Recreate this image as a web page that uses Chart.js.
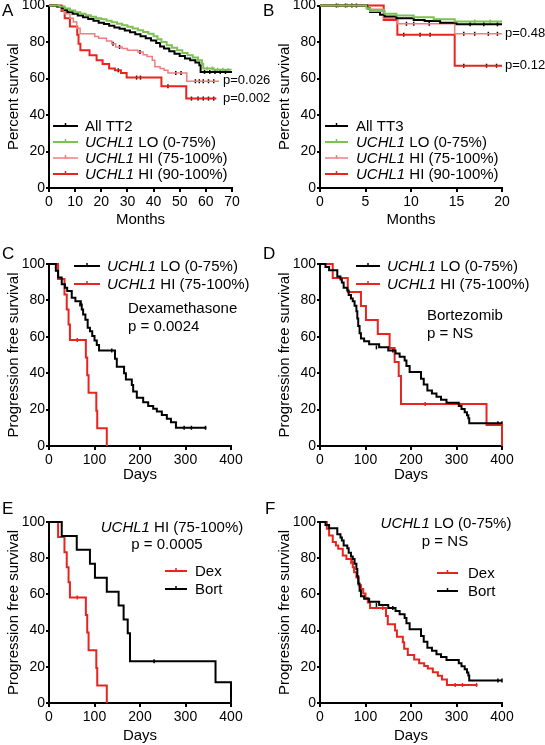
<!DOCTYPE html>
<html>
<head>
<meta charset="utf-8">
<script src="https://cdn.jsdelivr.net/npm/chart.js@4/dist/chart.umd.min.js"></script>
<style>
  html, body { margin:0; padding:0; background:#fff; }
  #wrap { position:relative; width:545px; height:745px; overflow:hidden; }
  canvas { position:absolute; left:0; top:0; }
</style>
</head>
<body>
<div id="wrap">
  <canvas id="cA" width="545" height="745"></canvas>
  <canvas id="cB" width="545" height="745"></canvas>
  <canvas id="cC" width="545" height="745"></canvas>
  <canvas id="cD" width="545" height="745"></canvas>
  <canvas id="cE" width="545" height="745"></canvas>
  <canvas id="cF" width="545" height="745"></canvas>
</div>
<script>
// ---------------- DATA (Kaplan-Meier steps: [time, survival %]) ----------------
// Panel A: TT2, months
const tt2All  = [[0,100],[3,99.5],[5,98.5],[6,97.5],[7,96.5],[9,95.5],[11,94.5],[13,93.6],[15,92.6],[17,91.6],[19,90.6],[21,89.8],[23,88.9],[25,88],[27,87.2],[29,86.3],[31,85.3],[33,84.3],[35,83.2],[37,82],[39,80.8],[41,79.5],[42.5,77.5],[44,76.4],[46,75],[48,73.6],[50,72.3],[52,71],[54,70],[56,68.8],[57.5,67.3],[58,63.6],[70,63.6]];
const tt2Lo   = [[0,100],[4,99.5],[6,98.3],[8,97.2],[10,96.3],[12,95.5],[14,94.7],[16,93.8],[18,93],[20,92.4],[22,91.6],[24,90.8],[26,90],[28,89.2],[30,88.3],[32,87.4],[34,86.5],[36,85.5],[38,84.5],[40,83.2],[41.5,81.5],[43,80],[45,78.2],[47,76.8],[49,75.5],[51,74],[53,72.7],[55,71.5],[57,70],[58.5,68],[59,65.5],[63,64.8],[69.5,64.5]];
const tt2Hi75 = [[0,100],[3.5,99],[4.5,98],[5.5,97],[6,95.5],[8,93],[9.3,91],[10.6,87.6],[11.9,84.5],[17.5,83],[19,82],[22,80.5],[24,79],[25.5,77.3],[28,76.4],[30,75.5],[34,74.5],[36,73],[37.5,72],[39.5,70],[40.5,66.4],[42.5,65.5],[44,64.5],[45.5,63],[52.7,58.5],[65,58.5]];
const tt2Hi90 = [[0,100],[4.8,97],[6,93],[8,88.5],[10.8,84],[11.3,79],[12,75.5],[15.5,72.7],[18.2,70],[20.5,68],[23,65.5],[25.2,64.5],[27.5,63],[29.7,60.5],[43,55.8],[52.5,49],[64,49]];
const tt2AllCens  = [[59.5,63.6],[61.5,63.6],[63.5,63.6],[65.5,63.6],[67.5,63.6]];
const tt2LoCens   = [[60.5,65.5],[62.5,65.5],[64.5,64.8],[66.5,64.8],[68.5,64.5]];
const tt2Hi75Cens = [[24.5,79],[27,77.3],[34.8,74.5],[48.5,63],[50.5,63],[56,58.5],[57.5,58.5],[59,58.5],[61,58.5],[63,58.5]];
const tt2Hi90Cens = [[26.5,64.5],[33.5,60.5],[35,60.5],[45.5,55.8],[54.5,49],[57,49],[59,49],[61,49],[63,49]];

// Panel B: TT3, months
const tt3All  = [[0,100],[5.2,98.5],[5.5,96.5],[6.6,95],[7.1,94],[8.4,93],[10.3,92],[11.5,91.5],[13.2,90.5],[15,89.7],[20,89.7]];
const tt3Lo   = [[0,100],[5.1,98.5],[5.5,97],[7.1,95.5],[8.4,94.5],[10.3,93.5],[12.5,92.5],[14.8,91.3],[20,91.3]];
const tt3Hi75 = [[0,100],[5.3,98],[7,93],[8.5,90],[14.8,84.5],[20,84.5]];
const tt3Hi90 = [[0,100],[7,92],[8.5,84],[14.8,67],[20,67]];
const tt3AllCens  = [[16.5,89.7],[18,89.7],[19.5,89.7]];
const tt3LoCens   = [[2,100],[3,100],[17,91.3],[18.7,91.3]];
const tt3Hi75Cens = [[2.8,100],[3.5,100],[9.5,90],[10.3,90],[12,90],[15.8,84.5],[17,84.5],[18.5,84.5],[19.5,84.5]];
const tt3Hi90Cens = [[1.8,100],[4,100],[9.2,84],[11,84],[12.1,84],[15.8,67],[18.3,67],[19.4,67]];

// Panels C-F: progression free survival, days
const loDex  = [[0,100],[15,96.3],[20,92.6],[28,88.9],[35,87],[40,85.2],[50,81.5],[58,79.6],[70,77.8],[72,75],[75,72.2],[80,69.4],[85,65],[90,63],[95,60.5],[100,58],[105,55.5],[110,52.5],[145,48],[149,43.5],[165,40],[169,36.6],[182,33.5],[185,30],[193,26.5],[207,24],[218,22],[229,20.5],[237,19],[248,17],[259,15],[268,13],[279,10],[346,10]];
const loDexCens = [[68,77.8],[138,52.5],[297,10],[313,10],[344,10]];
const hiDex  = [[0,100],[20,91.7],[34,83.3],[39,75],[43,66.7],[46,58.3],[81,48.6],[84,38.9],[87,29.2],[104,19.4],[106,9.7],[127,0]];
const hiDexCens = [[62,58.3]];
const loBort = [[0,100],[12,98.3],[20,96.6],[38,93.2],[45,91.5],[48,89.8],[52,87],[60,85.5],[63,83],[68,81],[72,79.5],[76,77],[80,74],[82,70],[84,66],[87,62],[90,59],[97,57.6],[108,55.9],[130,54.2],[150,52.5],[166,50.8],[175,49],[186,47],[190,44],[197,40.7],[222,37],[228,33.8],[236,30.5],[246,28.8],[256,27],[266,25.4],[278,23.7],[305,22],[311,20.3],[318,18.6],[323,16.9],[326,15.2],[328,12.5],[400,12.5]];
const loBortCens = [[124,54.2],[160,52.5],[391,12.5],[400,12.5]];
const hiBort = [[0,100],[28,92.3],[61,84.6],[90,76.9],[101,69.2],[127,61.5],[153,53.8],[164,46.2],[173,38.5],[178,23.1],[366,11.5],[400,0]];
const hiBortCens = [[231,23.1]];

// Tick settings
const yTicks = [0,20,40,60,80,100];
const monthsTicksA = [0,10,20,30,40,50,60,70];
const monthsTicksB = [0,5,10,15,20];
const dayTicks = [0,100,200,300,400];

// ---------------- STYLE ----------------
const FAMILY = '"Liberation Sans", Arial, Helvetica, sans-serif';
Chart.defaults.font.family = FAMILY;
Chart.defaults.color = '#000';
const BLACK = '#000000', GREEN = '#7cc152', LRED = '#ef7f7f', RED = '#e9241e';

function pts(arr){ return arr.map(([x,y]) => ({x, y})); }
function curve(arr, color, w){
  return { type:'line', data: pts(arr), borderColor: color, backgroundColor: color, borderWidth: w,
           stepped: true, pointRadius: 0, fill: false, tension: 0, clip: 4 };
}
function cens(arr, color){
  return { type:'line', data: pts(arr), showLine: false, borderColor: color, backgroundColor: color,
           pointStyle: 'line', pointRotation: 90, pointRadius: 2, pointBorderWidth: 1.5, clip: 6 };
}

function richWidth(ctx, parts, size){
  let w = 0;
  for (const p of parts){ ctx.font = (p.i ? 'italic ' : '') + size + 'px ' + FAMILY; w += ctx.measureText(p.t).width; }
  return w;
}
function drawRich(ctx, parts, x, y, size, align){
  let cx = x;
  if (align === 'center') cx = x - richWidth(ctx, parts, size) / 2;
  ctx.textBaseline = 'middle'; ctx.textAlign = 'left'; ctx.fillStyle = '#000';
  for (const p of parts){
    ctx.font = (p.i ? 'italic ' : '') + size + 'px ' + FAMILY;
    ctx.fillText(p.t, cx, y);
    cx += ctx.measureText(p.t).width;
  }
}

const kmDecor = {
  id: 'kmDecor',
  afterDraw(chart, args, o){
    const ctx = chart.ctx;
    ctx.save();
    if (o.letter){
      ctx.font = '17px ' + FAMILY; ctx.fillStyle = '#000'; ctx.textBaseline = 'middle'; ctx.textAlign = 'left';
      ctx.fillText(o.letter.t, o.letter.x, o.letter.y);
    }
    for (const it of (o.legend || [])){
      ctx.strokeStyle = it.color; ctx.lineWidth = it.w;
      ctx.beginPath(); ctx.moveTo(it.x1, it.y); ctx.lineTo(it.x2, it.y); ctx.stroke();
      const mx = (it.x1 + it.x2) / 2;
      ctx.lineWidth = 1.5;
      ctx.beginPath(); ctx.moveTo(mx, it.y - 3); ctx.lineTo(mx, it.y + 1); ctx.stroke();
      drawRich(ctx, it.parts, it.tx, it.y + 1, 15, 'left');
    }
    for (const t of (o.texts || [])){
      drawRich(ctx, t.parts, t.x, t.y, t.size || 15, t.align || 'left');
    }
    ctx.restore();
  }
};

function makePanel(id, c){
  const W = 545, H = 745;
  new Chart(document.getElementById(id), {
    type: 'line',
    data: { datasets: c.datasets },
    plugins: [kmDecor],
    options: {
      responsive: false, animation: false, devicePixelRatio: 1,
      layout: { padding: { left: c.padL, right: W - c.right, top: c.top, bottom: H - c.regionBottom } },
      plugins: { legend: { display: false }, tooltip: { enabled: false }, kmDecor: c.decor },
      scales: {
        x: {
          type: 'linear', min: 0, max: c.xTicks[c.xTicks.length - 1],
          afterBuildTicks(s){ s.ticks = c.xTicks.map(v => ({ value: v })); },
          afterFit(s){ s.height = c.regionBottom - c.bottom; s.paddingLeft = 0; s.paddingRight = 0; },
          ticks: { font: { size: 14 }, color: '#000', padding: 2, maxRotation: 0, autoSkip: false },
          grid: { drawOnChartArea: false, drawTicks: true, tickLength: 4, color: '#000', lineWidth: 2 },
          border: { display: true, color: '#000', width: 2 },
          title: { display: true, text: c.xTitle, font: { size: 15 }, color: '#000', padding: { top: 0, bottom: c.xTitlePad } }
        },
        y: {
          type: 'linear', min: 0, max: 100,
          afterBuildTicks(s){ s.ticks = yTicks.map(v => ({ value: v })); },
          afterFit(s){ s.width = c.yW; s.paddingTop = 0; s.paddingBottom = 0; },
          ticks: { font: { size: 14 }, color: '#000', padding: 1, autoSkip: false },
          grid: { drawOnChartArea: false, drawTicks: true, tickLength: 3, color: '#000', lineWidth: 2 },
          border: { display: true, color: '#000', width: 2 },
          title: { display: true, text: c.yTitle, font: { size: 15 }, color: '#000', padding: { top: c.yTitlePad, bottom: 0 } }
        }
      }
    }
  });
}

const U = { t: 'UCHL1', i: true };
const legRows4 = (x1, x2, tx, labels) => [
  { color: BLACK, w: 2,   x1, x2, y: 126, tx, parts: [{ t: labels[0] }] },
  { color: GREEN, w: 2,   x1, x2, y: 142, tx, parts: [U, { t: ' LO (0-75%)' }] },
  { color: LRED,  w: 1.5, x1, x2, y: 158, tx, parts: [U, { t: ' HI (75-100%)' }] },
  { color: RED,   w: 2,   x1, x2, y: 174, tx, parts: [U, { t: ' HI (90-100%)' }] }
];

// Panel A
makePanel('cA', {
  padL: 0, yW: 49, right: 232, top: 5, bottom: 188, regionBottom: 245,
  xTicks: monthsTicksA, xTitle: 'Months', yTitle: 'Percent survival', xTitlePad: 16, yTitlePad: 5,
  datasets: [
    curve(tt2Lo, GREEN, 2), curve(tt2All, BLACK, 2), curve(tt2Hi75, LRED, 1.5), curve(tt2Hi90, RED, 2),
    cens(tt2LoCens, GREEN), cens(tt2AllCens, BLACK), cens(tt2Hi75Cens, BLACK), cens(tt2Hi90Cens, BLACK)
  ],
  decor: {
    letter: { t: 'A', x: 2, y: 11 },
    legend: legRows4(53, 78, 85, ['All TT2']),
    texts: [ { parts: [{ t: 'p=0.026' }], x: 223, y: 80, size: 13 }, { parts: [{ t: 'p=0.002' }], x: 223, y: 98, size: 13 } ]
  }
});

// Panel B
makePanel('cB', {
  padL: 270, yW: 50, right: 502, top: 5, bottom: 188, regionBottom: 245,
  xTicks: monthsTicksB, xTitle: 'Months', yTitle: 'Percent survival', xTitlePad: 16, yTitlePad: 6,
  datasets: [
    curve(tt3Lo, GREEN, 2), curve(tt3All, BLACK, 2), curve(tt3Hi75, LRED, 1.5), curve(tt3Hi90, RED, 2),
    cens(tt3LoCens, GREEN), cens(tt3AllCens, BLACK), cens(tt3Hi75Cens, BLACK), cens(tt3Hi90Cens, BLACK)
  ],
  decor: {
    letter: { t: 'B', x: 263, y: 11 },
    legend: legRows4(325, 348, 356, ['All TT3']),
    texts: [ { parts: [{ t: 'p=0.48' }], x: 505, y: 33, size: 13 }, { parts: [{ t: 'p=0.12' }], x: 505, y: 65, size: 13 } ]
  }
});

// Panel C
makePanel('cC', {
  padL: 0, yW: 49, right: 231, top: 264, bottom: 446, regionBottom: 490,
  xTicks: dayTicks, xTitle: 'Days', yTitle: 'Progression free survival', xTitlePad: 6, yTitlePad: 5,
  datasets: [ curve(loDex, BLACK, 2), curve(hiDex, RED, 2), cens(loDexCens, BLACK), cens(hiDexCens, RED) ],
  decor: {
    letter: { t: 'C', x: 2, y: 254 },
    legend: [
      { color: BLACK, w: 2, x1: 74, x2: 100, y: 266, tx: 107, parts: [U, { t: ' LO (0-75%)' }] },
      { color: RED,   w: 2, x1: 74, x2: 100, y: 284, tx: 107, parts: [U, { t: ' HI (75-100%)' }] }
    ],
    texts: [ { parts: [{ t: 'Dexamethasone' }], x: 128, y: 309 }, { parts: [{ t: 'p = 0.0024' }], x: 128, y: 327 } ]
  }
});

// Panel D
makePanel('cD', {
  padL: 270, yW: 50, right: 502, top: 264, bottom: 446, regionBottom: 490,
  xTicks: dayTicks, xTitle: 'Days', yTitle: 'Progression free survival', xTitlePad: 6, yTitlePad: 6,
  datasets: [ curve(loBort, BLACK, 2), curve(hiBort, RED, 2), cens(loBortCens, BLACK), cens(hiBortCens, RED) ],
  decor: {
    letter: { t: 'D', x: 263, y: 254 },
    legend: [
      { color: BLACK, w: 2, x1: 356, x2: 380, y: 266, tx: 387, parts: [U, { t: ' LO (0-75%)' }] },
      { color: RED,   w: 2, x1: 356, x2: 380, y: 284, tx: 387, parts: [U, { t: ' HI (75-100%)' }] }
    ],
    texts: [ { parts: [{ t: 'Bortezomib' }], x: 427, y: 316 }, { parts: [{ t: 'p = NS' }], x: 427, y: 334 } ]
  }
});

// Panel E
makePanel('cE', {
  padL: 0, yW: 49, right: 231, top: 522, bottom: 703, regionBottom: 745,
  xTicks: dayTicks, xTitle: 'Days', yTitle: 'Progression free survival', xTitlePad: 0, yTitlePad: 5,
  datasets: [ curve(hiBort, BLACK, 2), curve(hiDex, RED, 2), cens(hiBortCens, BLACK), cens(hiDexCens, RED) ],
  decor: {
    letter: { t: 'E', x: 2, y: 509 },
    legend: [
      { color: RED,   w: 2, x1: 165, x2: 187, y: 571, tx: 195, parts: [{ t: 'Dex' }] },
      { color: BLACK, w: 2, x1: 165, x2: 187, y: 589, tx: 195, parts: [{ t: 'Bort' }] }
    ],
    texts: [ { parts: [U, { t: ' HI (75-100%)' }], x: 172, y: 528, align: 'center' },
             { parts: [{ t: 'p = 0.0005' }], x: 167, y: 545, align: 'center' } ]
  }
});

// Panel F
makePanel('cF', {
  padL: 270, yW: 50, right: 502, top: 522, bottom: 703, regionBottom: 745,
  xTicks: dayTicks, xTitle: 'Days', yTitle: 'Progression free survival', xTitlePad: 0, yTitlePad: 6,
  datasets: [ curve(loBort, BLACK, 2), curve(loDex, RED, 2), cens(loBortCens, BLACK), cens(loDexCens, RED) ],
  decor: {
    letter: { t: 'F', x: 265, y: 509 },
    legend: [
      { color: RED,   w: 2, x1: 437, x2: 458, y: 573, tx: 468, parts: [{ t: 'Dex' }] },
      { color: BLACK, w: 2, x1: 437, x2: 458, y: 591, tx: 468, parts: [{ t: 'Bort' }] }
    ],
    texts: [ { parts: [U, { t: ' LO (0-75%)' }], x: 446, y: 524, align: 'center' },
             { parts: [{ t: 'p = NS' }], x: 445, y: 542, align: 'center' } ]
  }
});
</script>
</body>
</html>
